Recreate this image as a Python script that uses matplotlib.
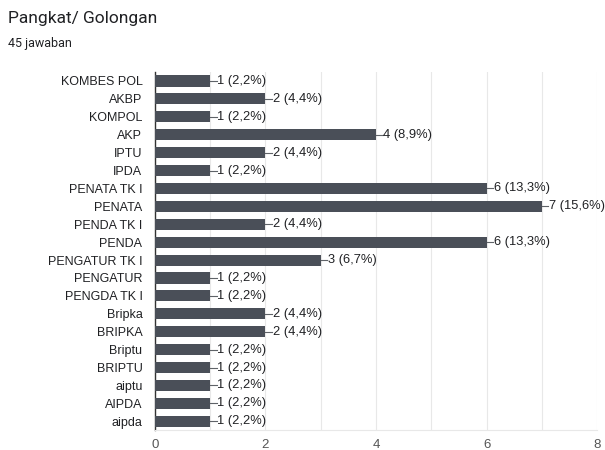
import matplotlib
matplotlib.use("Agg")
import matplotlib.pyplot as plt

kategori = ["KOMBES POL", "AKBP", "KOMPOL", "AKP", "IPTU", "IPDA",
            "PENATA TK I", "PENATA", "PENDA TK I", "PENDA", "PENGATUR TK I",
            "PENGATUR", "PENGDA TK I", "Bripka", "BRIPKA", "Briptu", "BRIPTU",
            "aiptu", "AIPDA", "aipda"]
jumlah = [1, 2, 1, 4, 2, 1, 6, 7, 2, 6, 3, 1, 1, 2, 2, 1, 1, 1, 1, 1]
persen = ["2,2", "4,4", "2,2", "8,9", "4,4", "2,2", "13,3", "15,6", "4,4",
          "13,3", "6,7", "2,2", "2,2", "4,4", "4,4", "2,2", "2,2", "2,2",
          "2,2", "2,2"]
total_jawaban = 45

COR_BARRA = "#4a4f58"
COR_TEXTO = "#202124"
COR_GRID = "#e8e8e8"

plt.rcParams["font.family"] = ["Liberation Sans", "DejaVu Sans"]

fig = plt.figure(figsize=(6.05, 4.5), dpi=100, facecolor="white")
ax = fig.add_axes([0.256, 0.044, 0.731, 0.796])

y = list(range(len(kategori)))
ax.barh(y, jumlah, height=0.62, color=COR_BARRA, zorder=3)

# rótulo com tracinho ligando a barra ao valor
for yi, v, p in zip(y, jumlah, persen):
    ax.plot([v, v + 0.12], [yi, yi], color="#5f6368", lw=0.8, zorder=3)
    ax.text(v + 0.13, yi, f"{v} ({p}%)", va="center", ha="left",
            fontsize=9.3, color=COR_TEXTO)

ax.set_xlim(0, 8)
ax.set_ylim(len(kategori) - 0.5, -0.5)
ax.set_xticks([0, 2, 4, 6, 8])
ax.set_xticks(range(1, 8, 2), minor=True)
ax.set_yticks(y)
ax.set_yticklabels(kategori, fontsize=9, color=COR_TEXTO)
ax.tick_params(axis="y", length=0, pad=9)
ax.tick_params(axis="x", which="both", length=0, pad=6, labelsize=9.5,
               labelcolor="#555555")
ax.xaxis.grid(True, which="both", color=COR_GRID, lw=0.8, zorder=0)
ax.set_axisbelow(True)

for lado in ["top", "right"]:
    ax.spines[lado].set_visible(False)
ax.spines["left"].set_color("#333333")
ax.spines["left"].set_linewidth(1.0)
ax.spines["bottom"].set_color(COR_GRID)

fig.text(8 / 605, 1 - 19 / 450, "Pangkat/ Golongan", fontsize=12.5,
         family=["Roboto", "DejaVu Sans"], color=COR_TEXTO, va="center")
fig.text(8 / 605, 1 - 43 / 450, f"{total_jawaban} jawaban", fontsize=9,
         family=["Roboto", "DejaVu Sans"], color=COR_TEXTO, va="center")

fig.savefig("out.png", dpi=100, facecolor="white")
